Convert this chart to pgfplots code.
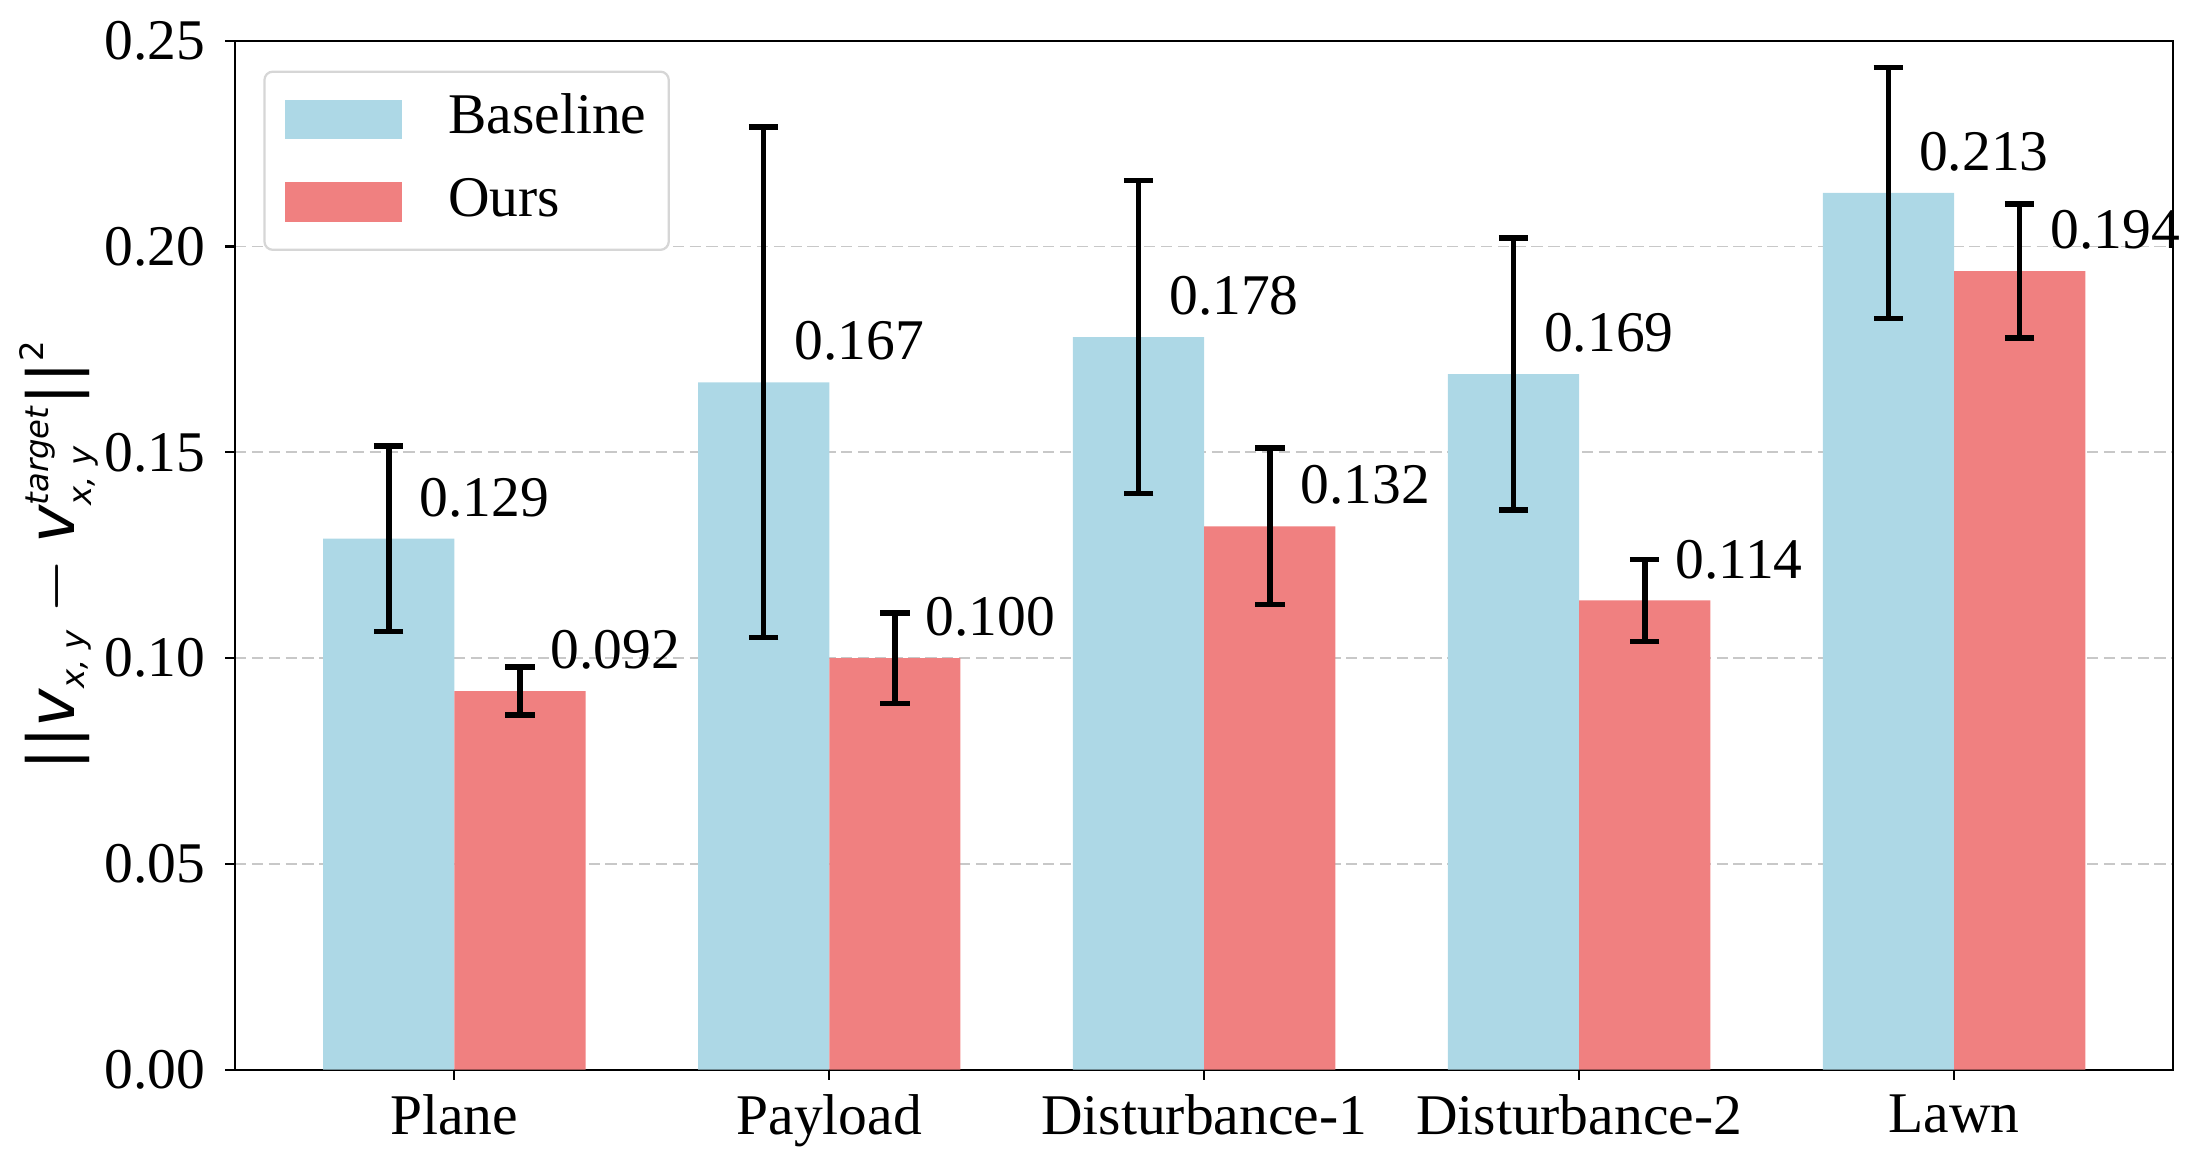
\documentclass[border=0pt]{standalone}
\usepackage{amsmath}
\usepackage{fontspec}
\setmainfont{Liberation Serif}
\newfontfamily\dejavu{DejaVu Sans}
\usepackage{pgfplots}
\pgfplotsset{compat=1.18}

\definecolor{baseblue}{HTML}{ADD8E6}
\definecolor{oursred}{HTML}{F08080}
\definecolor{gridgray}{HTML}{C8C8C8}
\definecolor{legendedge}{HTML}{D6D6D6}

% pieces of the y-axis label: main-size and script-size DejaVu text
\newcommand{\dv}[1]{\text{\dejavu\itshape #1}}
\newcommand{\du}[1]{\text{\dejavu #1}}
\newcommand{\ds}[1]{\text{\fontsize{11.5}{13}\selectfont\dejavu\itshape #1}}
\newcommand{\dsu}[1]{\text{\fontsize{11.5}{13}\selectfont\dejavu #1}}
\newcommand{\lblfont}{\fontsize{20.5}{24}\selectfont}

% bar position (group index -/+ half a bar width), mean, std
\pgfplotstableread{
x y e
-0.175 0.129 0.0225
0.825 0.167 0.062
1.825 0.178 0.038
2.825 0.169 0.033
3.825 0.213 0.0305
}\baseline

\pgfplotstableread{
x y e
0.175 0.092 0.0058
1.175 0.100 0.011
2.175 0.132 0.019
3.175 0.114 0.010
4.175 0.194 0.0163
}\ours

\begin{document}
\begin{tikzpicture}
\begin{axis}[
  scale only axis,
  width=690.75pt, height=366.7pt,
  xmin=-0.585, xmax=4.585,
  ymin=0, ymax=0.25,
  xtick={0,1,2,3,4},
  xticklabels={Plane,Payload,Disturbance-1,Disturbance-2,Lawn},
  ytick={0,0.05,0.10,0.15,0.20,0.25},
  yticklabel style={xshift=-3.5pt, /pgf/number format/.cd, fixed, fixed zerofill, precision=2, assume math mode=true},
  tick label style={font=\lblfont},
  xticklabel style={yshift=-2pt},
  xtick pos=left, ytick pos=left,
  tick align=outside,
  major tick length=3.5pt,
  tick style={black, line width=0.8pt},
  axis line style={black, line width=0.8pt},
  ymajorgrids,
  grid style={gridgray, line width=0.6pt, dash pattern=on 4pt off 2pt},
  ylabel={$\du{||}\dv{v}_{\ds{x, y}} - \dv{v}^{\ds{target}}_{\ds{x, y}}\du{||}^{\dsu{2}}$},
  every axis y label/.style={at={(rel axis cs:0,0.5)}, xshift=-62.75pt, rotate=90, anchor=center,
    font=\fontsize{23}{27}\selectfont},
  legend style={
    at={(0.0146,0.971)}, anchor=north west,
    draw=legendedge, line width=0.8pt, rounded corners=3pt,
    font=\lblfont, inner xsep=5pt, inner ysep=7.5pt,
    row sep=10.5pt,
    nodes={inner xsep=3pt, inner ysep=0pt, text height=14.5pt, text depth=4.5pt},
  },
  legend cell align=left,
  legend image code/.code={%
    \fill[#1, sharp corners] (0pt,-7pt) rectangle (41.5pt,7pt);
    \path (-2.5pt,0pt) (55pt,0pt);},
  error bars/error bar style={line width=2pt, black},
  error bars/error mark options={line width=2pt, black, mark size=5.25pt, rotate=90},
  nodes near coords={\pgfmathprintnumber[fixed, fixed zerofill, precision=3, assume math mode=true]{\pgfplotspointmeta}},
  every node near coord/.append style={font=\lblfont, anchor=base west, xshift=10.75pt, yshift=8pt, inner sep=0pt, black},
]
\addplot[ybar, bar width=0.35, bar shift=0, fill=baseblue, draw=none,
  error bars/.cd, y dir=both, y explicit]
  table[x=x, y=y, y error=e] {\baseline};
\addlegendentry{Baseline}
\addplot[ybar, bar width=0.35, bar shift=0, fill=oursred, draw=none,
  error bars/.cd, y dir=both, y explicit]
  table[x=x, y=y, y error=e] {\ours};
\addlegendentry{Ours}
\end{axis}
\path (current axis.south west) ++(-83.75pt,-34.25pt);
\path (current axis.north east) ++(9.5pt,14.5pt);
\end{tikzpicture}
\end{document}
